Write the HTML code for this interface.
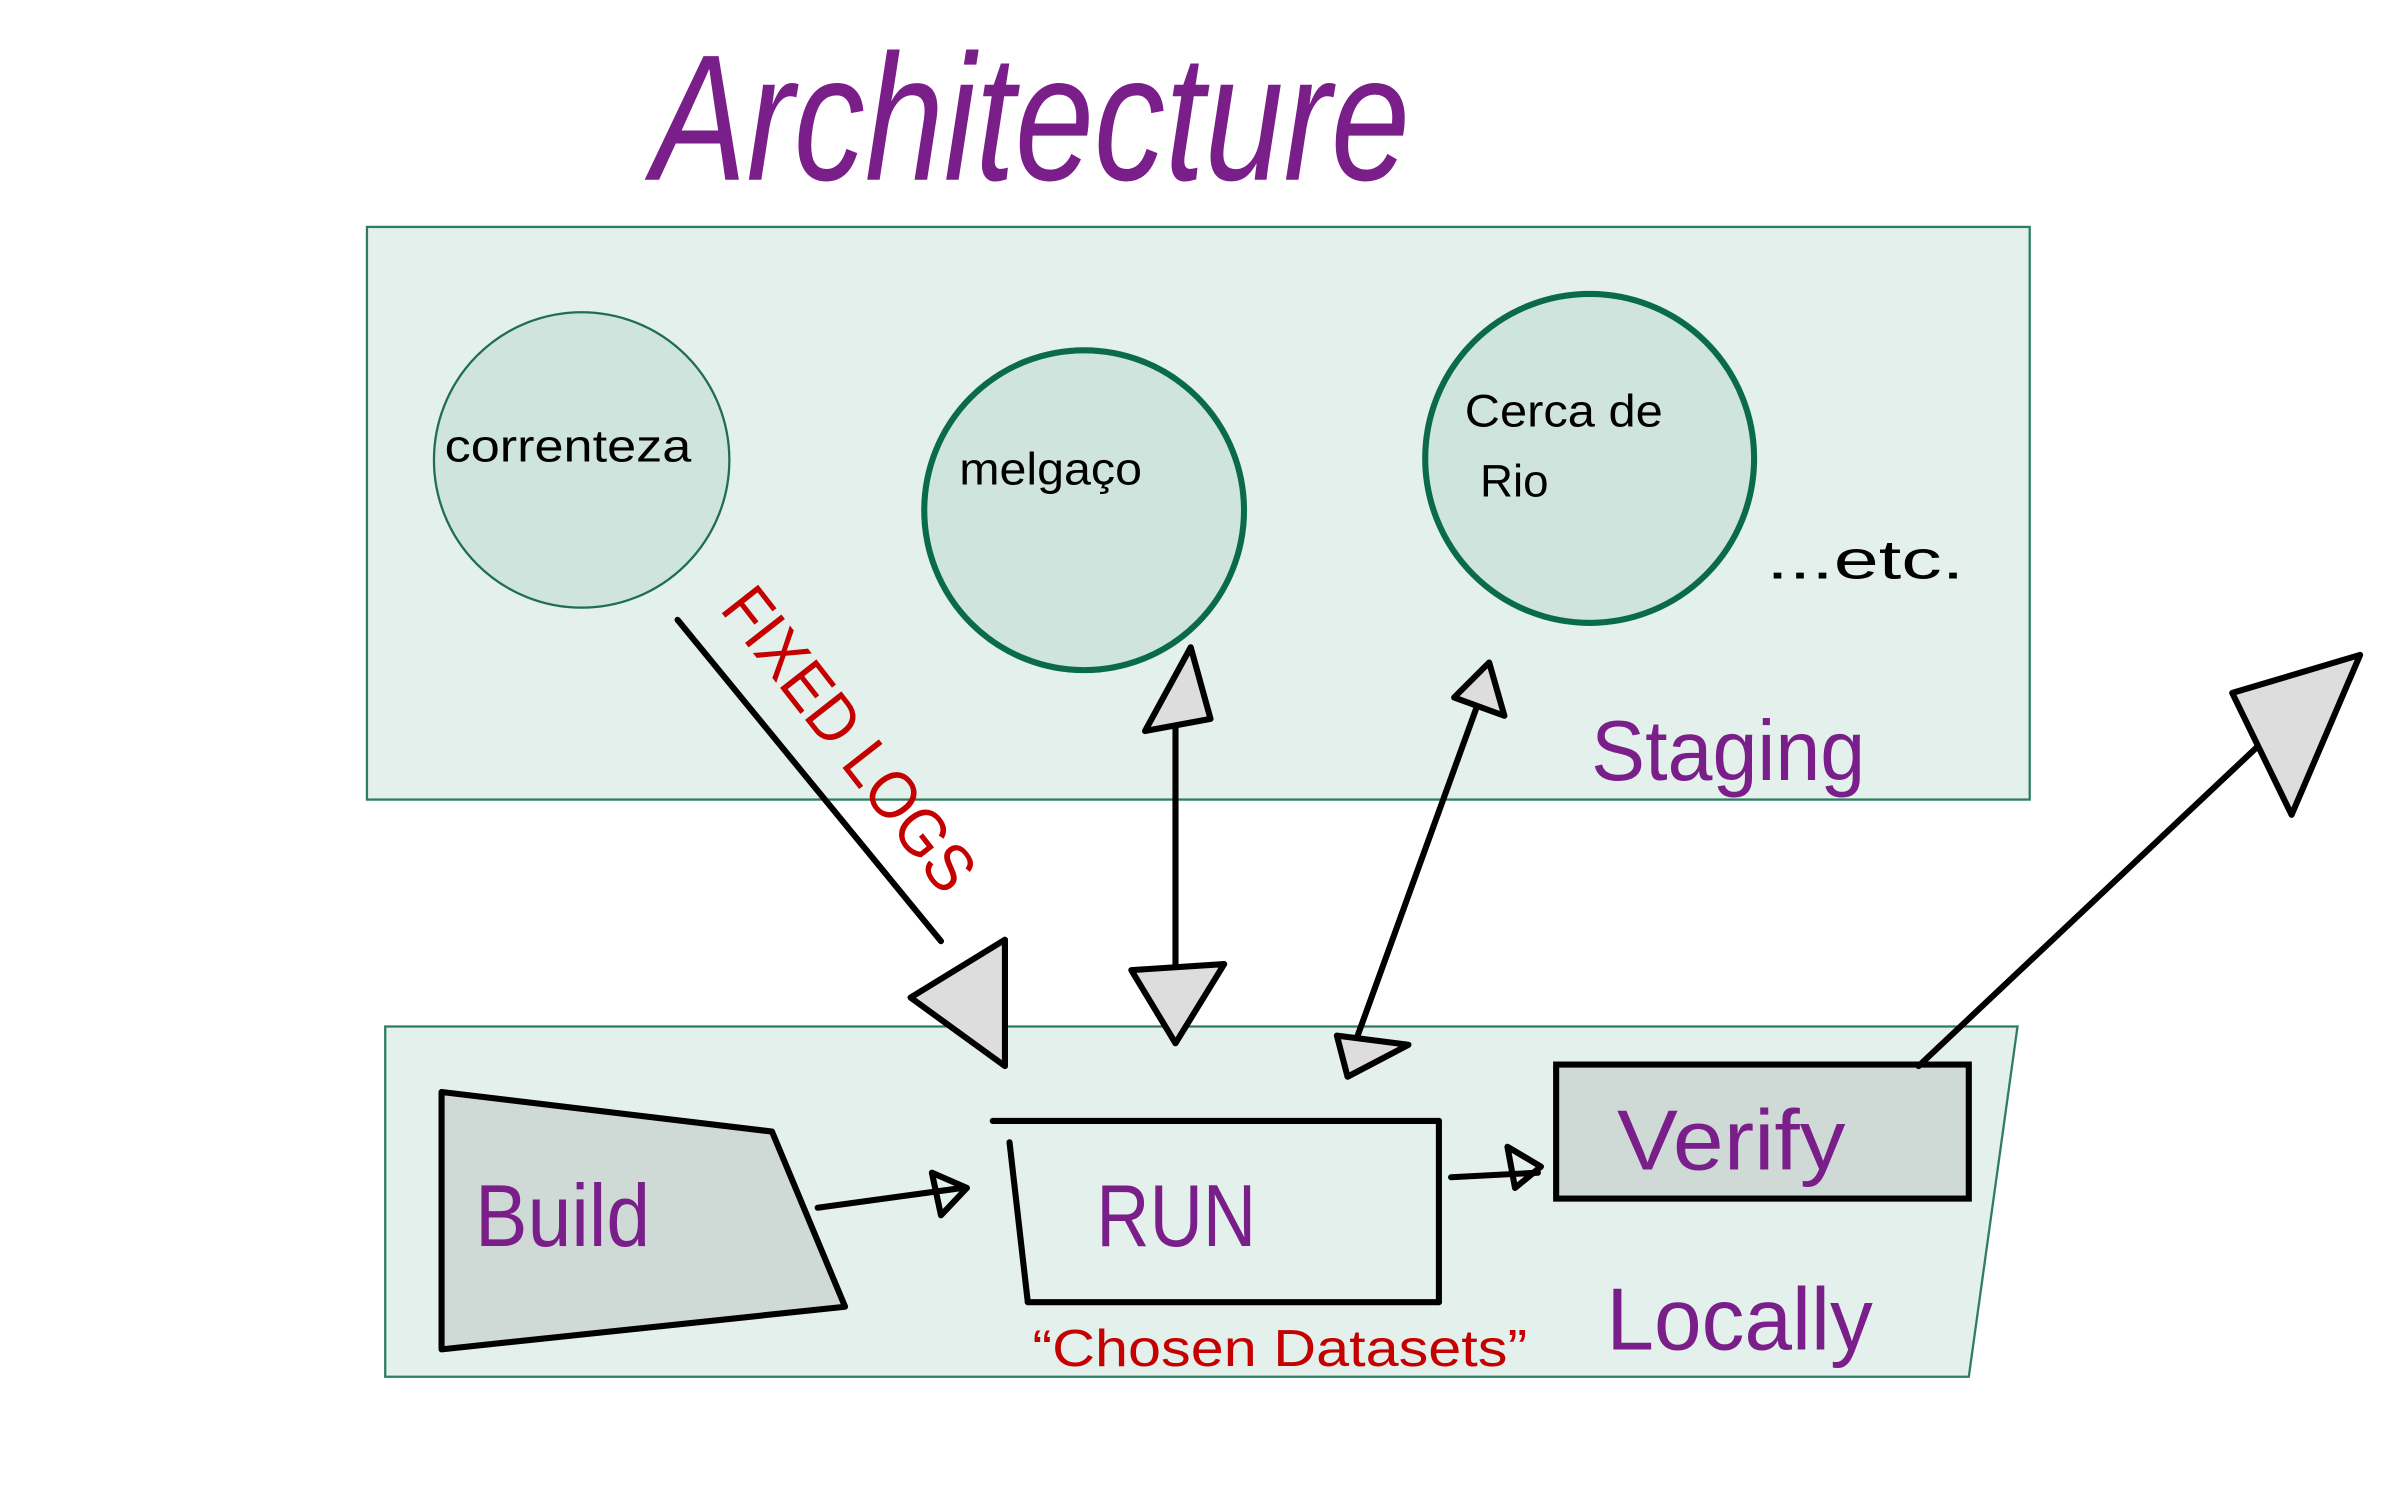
<!DOCTYPE html>
<html><head><meta charset="utf-8"><style>
html,body{margin:0;padding:0;background:#fff;}
svg{display:block}
text{font-family:"Liberation Sans",sans-serif}
</style></head><body>
<svg width="2386" height="1491" viewBox="0 0 1567 979" preserveAspectRatio="none" xmlns="http://www.w3.org/2000/svg">
<rect width="1600" height="1000" fill="#fff"/>
<text x="428" y="118" font-size="118" fill="#7a1f8a" font-style="italic" textLength="498" lengthAdjust="spacingAndGlyphs">Architecture</text>

<rect x="241" y="149" width="1092" height="376" fill="#e3f0ec" stroke="#2e7d5e" stroke-width="1.5"/>
<circle cx="382" cy="302" r="97" fill="#cfe4dd" stroke="#1f6e52" stroke-width="1.5"/>
<circle cx="712" cy="335" r="105" fill="#cfe4dd" stroke="#0a6b4a" stroke-width="4"/>
<circle cx="1044" cy="301" r="108" fill="#cfe4dd" stroke="#0a6b4a" stroke-width="4"/>
<text x="292" y="303" font-size="30" fill="#000" textLength="162" lengthAdjust="spacingAndGlyphs">correnteza</text>
<text x="630" y="318" font-size="30" fill="#000" textLength="120" lengthAdjust="spacingAndGlyphs">melgaço</text>
<text x="962" y="280" font-size="30" fill="#000" textLength="130" lengthAdjust="spacingAndGlyphs">Cerca de</text>
<text x="972" y="326" font-size="30" fill="#000">Rio</text>
<text x="1160" y="380" font-size="36" fill="#000" textLength="130" lengthAdjust="spacingAndGlyphs">...etc.</text>
<text x="1045" y="512" font-size="56" fill="#7a1f8a" textLength="180" lengthAdjust="spacingAndGlyphs">Staging</text>

<polygon points="253,674 1325,674 1293,904 253,904" fill="#e3f0ec" stroke="#2e7d5e" stroke-width="1.5"/>
<polygon points="290,717 507,743 555,858 290,886" fill="#cfdad6" stroke="#000" stroke-width="4" stroke-linejoin="round"/>
<text x="312" y="818" font-size="58" fill="#7a1f8a" textLength="115" lengthAdjust="spacingAndGlyphs">Build</text>
<g stroke="#000" stroke-width="4" fill="none" stroke-linecap="round">
<line x1="652" y1="736" x2="945" y2="736"/>
<line x1="945" y1="736" x2="945" y2="855"/>
<line x1="675" y1="855" x2="945" y2="855"/>
<line x1="663" y1="750" x2="675" y2="855"/>
</g>
<text x="720" y="818" font-size="58" fill="#7a1f8a" textLength="105" lengthAdjust="spacingAndGlyphs">RUN</text>
<rect x="1022" y="699" width="271" height="88" fill="#cfdad6" stroke="#000" stroke-width="4"/>
<text x="1062" y="768" font-size="56" fill="#7a1f8a" textLength="150" lengthAdjust="spacingAndGlyphs">Verify</text>
<text x="1055" y="886" font-size="58" fill="#7a1f8a" textLength="175" lengthAdjust="spacingAndGlyphs">Locally</text>
<text x="678" y="897" font-size="34" fill="#c40000" textLength="325" lengthAdjust="spacingAndGlyphs">“Chosen Datasets”</text>

<g stroke="#000" stroke-width="4" fill="none" stroke-linecap="round" stroke-linejoin="round">
<line x1="537" y1="793" x2="632" y2="780"/>
<polygon points="612,770 635,780 618,798"/>
<line x1="953" y1="773" x2="1010" y2="770"/>
<polygon points="990,753 1012,766 995,780"/>
<line x1="445" y1="407" x2="618" y2="618"/>
<line x1="772" y1="470" x2="772" y2="640"/>
<line x1="975" y1="450" x2="888" y2="690"/>
<line x1="1260" y1="700" x2="1485" y2="488"/>
</g>
<g stroke="#000" stroke-width="4" fill="#ddd" stroke-linejoin="round">
<polygon points="598,655 660,617 660,700"/>
<polygon points="752,480 795,472 782,425"/>
<polygon points="743,637 804,633 772,685"/>
<polygon points="955,458 988,470 978,435"/>
<polygon points="878,680 925,686 885,707"/>
<polygon points="1466,455 1550,430 1505,535"/>
</g>
<text transform="translate(472,400) rotate(52)" font-size="44" fill="#c40000" textLength="240" lengthAdjust="spacingAndGlyphs">FIXED LOGS</text>
</svg>
</body></html>
